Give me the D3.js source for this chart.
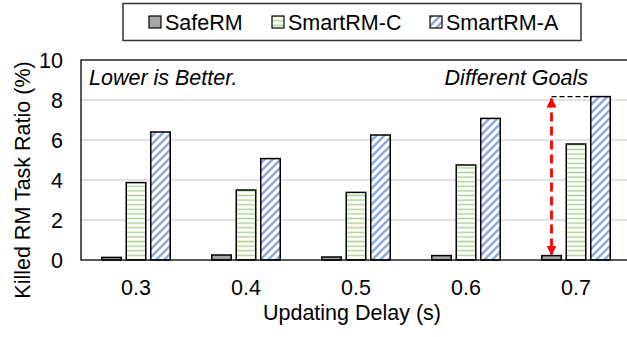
<!DOCTYPE html>
<html>
<head>
<meta charset="utf-8">
<script src="https://cdn.jsdelivr.net/npm/d3@7"></script>
<style>
  body { margin: 0; background: #fff; }
  text { font-family: "Liberation Sans", Arial, sans-serif; font-size: 21.5px; fill: #000; }
</style>
</head>
<body>
<script>
// values
var delays = ["0.3", "0.4", "0.5", "0.6", "0.7"];
var series = ["SafeRM", "SmartRM-C", "SmartRM-A"];
var safeRM = [0.13, 0.25, 0.15, 0.22, 0.22];
var smartC = [3.87, 3.5, 3.38, 4.75, 5.8];
var smartA = [6.4, 5.07, 6.25, 7.08, 8.17];
var yTicks = [0, 2, 4, 6, 8, 10];

var W = 627, H = 337;
var plotL = 81, plotR = 631, plotT = 60, plotB = 260;

var svg = d3.select("body").append("svg").attr("width", W).attr("height", H);

var defs = svg.append("defs");
var pg = defs.append("pattern").attr("id", "hatchC").attr("patternUnits", "userSpaceOnUse")
  .attr("width", 8).attr("height", 4.6);
pg.append("rect").attr("width", 8).attr("height", 4.6).attr("fill", "#fff");
pg.append("line").attr("x1", 0).attr("x2", 8).attr("y1", 2.3).attr("y2", 2.3)
  .attr("stroke", "#a9d18e").attr("stroke-width", 1.4);

var pb = defs.append("pattern").attr("id", "hatchA").attr("patternUnits", "userSpaceOnUse")
  .attr("width", 8).attr("height", 8);
pb.append("rect").attr("width", 8).attr("height", 8).attr("fill", "#fff");
pb.append("path").attr("d", "M-2,2 L2,-2 M0,8 L8,0 M6,10 L10,6")
  .attr("stroke", "#8eaadb").attr("stroke-width", 2.5);

defs.append("marker").attr("id", "arrowRed").attr("viewBox", "0 0 10 10")
  .attr("refX", 9).attr("refY", 5).attr("markerWidth", 10).attr("markerHeight", 10)
  .attr("markerUnits", "userSpaceOnUse").attr("orient", "auto-start-reverse")
  .append("path").attr("d", "M0,0 L10,5 L0,10 z").attr("fill", "#ff0000");

var fills = ["#a6a6a6", "url(#hatchC)", "url(#hatchA)"];
var values = [safeRM, smartC, smartA];

var x = d3.scaleBand().domain(delays).range([plotL, plotR]).padding(0);
var x1 = d3.scaleBand().domain(series).range([-34.25, 34.25]).paddingInner(0.204);
var y = d3.scaleLinear().domain([0, 10]).range([plotB, plotT]);

// grid
svg.append("g").selectAll("line").data(yTicks.slice(1, -1)).enter().append("line")
  .attr("x1", plotL).attr("x2", plotR)
  .attr("y1", function(d) { return y(d); }).attr("y2", function(d) { return y(d); })
  .attr("stroke", "#d9d9d9").attr("stroke-width", 1.3);

// bars
var rows = [];
delays.forEach(function(dl, i) {
  series.forEach(function(s, j) {
    rows.push({ delay: dl, s: s, v: values[j][i], fill: fills[j] });
  });
});
svg.append("g").selectAll("rect").data(rows).enter().append("rect")
  .attr("x", function(d) { return x(d.delay) + x.bandwidth() / 2 + x1(d.s); })
  .attr("width", x1.bandwidth())
  .attr("y", function(d) { return y(d.v); })
  .attr("height", function(d) { return y(0) - y(d.v); })
  .attr("fill", function(d) { return d.fill; })
  .attr("stroke", "#000").attr("stroke-width", 1.5);

// frame
svg.append("rect").attr("x", plotL).attr("y", plotT).attr("width", plotR - plotL).attr("height", plotB - plotT)
  .attr("fill", "none").attr("stroke", "#000").attr("stroke-width", 1.3);

// y axis labels
svg.append("g").selectAll("text").data(yTicks).enter().append("text")
  .attr("x", 63).attr("y", function(d) { return y(d); }).attr("dy", "0.36em")
  .attr("text-anchor", "end").text(function(d) { return d; });

// x axis labels
svg.append("g").selectAll("text").data(delays).enter().append("text")
  .attr("x", function(d) { return x(d) + x.bandwidth() / 2; }).attr("y", 295)
  .attr("text-anchor", "middle").text(function(d) { return d; });

svg.append("text").attr("x", 352).attr("y", 320).attr("text-anchor", "middle")
  .text("Updating Delay (s)");

svg.append("text").attr("transform", "translate(30,180) rotate(-90)").attr("text-anchor", "middle")
  .text("Killed RM Task Ratio (%)");

// annotations
svg.append("text").attr("x", 89).attr("y", 85).style("font-style", "italic")
  .text("Lower is Better.");
svg.append("text").attr("x", 588).attr("y", 85).attr("text-anchor", "end")
  .style("font-style", "italic").text("Different Goals");

var last = delays.length - 1;
var ax = x(delays[last]) + x.bandwidth() / 2 + x1("SafeRM") + x1.bandwidth() / 2;
svg.append("line")
  .attr("x1", ax).attr("x2", x(delays[last]) + x.bandwidth() / 2 + x1("SmartRM-A"))
  .attr("y1", y(smartA[last])).attr("y2", y(smartA[last]))
  .attr("stroke", "#000").attr("stroke-width", 1.3).attr("stroke-dasharray", "5,3");
svg.append("line")
  .attr("x1", ax).attr("x2", ax)
  .attr("y1", y(smartA[last]) + 2).attr("y2", y(safeRM[last]) - 1)
  .attr("stroke", "#ff0000").attr("stroke-width", 2.8).attr("stroke-dasharray", "9,5")
  .attr("marker-start", "url(#arrowRed)").attr("marker-end", "url(#arrowRed)");

// legend
var lg = svg.append("g");
lg.append("rect").attr("x", 123).attr("y", 3.5).attr("width", 458).attr("height", 37)
  .attr("fill", "#fff").attr("stroke", "#333").attr("stroke-width", 1.5);
var legX = [149, 272, 430];
series.forEach(function(s, j) {
  lg.append("rect").attr("x", legX[j]).attr("y", 16).attr("width", 12).attr("height", 12)
    .attr("fill", fills[j]).attr("stroke", "#000").attr("stroke-width", 1.2);
  lg.append("text").attr("x", legX[j] + 16).attr("y", 29.5).text(s);
});
</script>
</body>
</html>
